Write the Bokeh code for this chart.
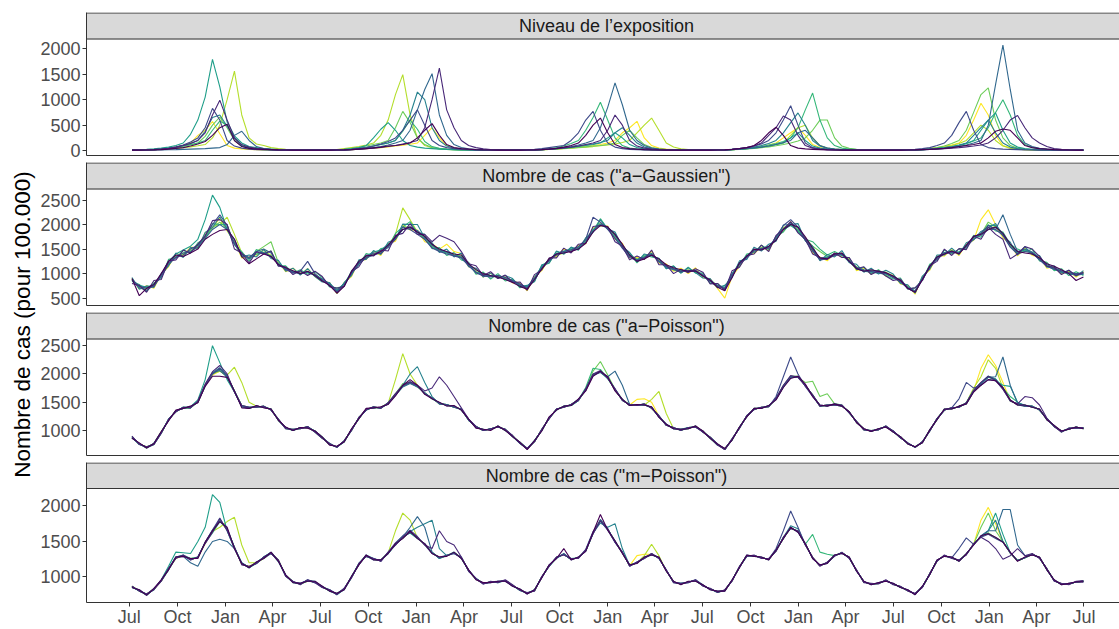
import math
from datetime import datetime, timedelta
from bokeh.plotting import figure
from bokeh.layouts import row, column
from bokeh.models import Range1d, FixedTicker, BoxAnnotation
from bokeh.core.properties import value
from bokeh.embed import file_html
from bokeh.resources import INLINE

FONT = "Liberation Sans"

# ---------------- data ----------------
series_colors = ["#440154", "#482878", "#3E4A89", "#31688E", "#26828E",
                 "#1F9E89", "#35B779", "#6DCD59", "#B4DE2C", "#FDE725"]
strip_labels = ["Niveau de l\u2019exposition",
                'Nombre de cas ("a\u2212Gaussien")',
                'Nombre de cas ("a\u2212Poisson")',
                'Nombre de cas ("m\u2212Poisson")']
y_title = "Nombre de cas (pour 100.000)"
first_date = "2010-07-06"   # first (bi-weekly) observation
step_days = 14
x_tick_dates = ["2010-07-01", "2010-10-01", "2011-01-01", "2011-04-01",
                "2011-07-01", "2011-10-01", "2012-01-01", "2012-04-01",
                "2012-07-01", "2012-10-01", "2013-01-01", "2013-04-01",
                "2013-07-01", "2013-10-01", "2014-01-01", "2014-04-01",
                "2014-07-01", "2014-10-01", "2015-01-01", "2015-04-01",
                "2015-07-01"]
x_tick_labels = ["Jul", "Oct", "Jan", "Apr", "Jul", "Oct", "Jan", "Apr",
                 "Jul", "Oct", "Jan", "Apr", "Jul", "Oct", "Jan", "Apr",
                 "Jul", "Oct", "Jan", "Apr", "Jul"]
y_ticks_expo = [0, 500, 1000, 1500, 2000]
y_ticks_gauss = [500, 1000, 1500, 2000, 2500]
y_ticks_pois = [1000, 1500, 2000, 2500]
y_ticks_mpois = [1000, 1500, 2000]

# Panel 1: Niveau de l'exposition
expo_c0 = [10, 10, 12, 15, 20, 30, 45, 60, 90, 130, 180, 300, 450, 520, 200, 80, 45, 30, 25, 20, 15, 12, 10, 10, 10, 10,
           10, 10, 12, 15, 20, 30, 40, 55, 70, 90, 100, 120, 150, 250, 400, 530, 300, 120, 60, 40, 30, 20, 15, 12, 10, 10,
           10, 10, 12, 15, 20, 30, 45, 70, 100, 150, 300, 500, 640, 350, 120, 60, 40, 30, 20, 15, 12, 10, 10, 10, 10, 10,
           10, 10, 12, 15, 25, 40, 60, 100, 200, 350, 460, 300, 100, 50, 35, 25, 20, 15, 12, 10, 10, 10, 10, 10, 10, 10,
           10, 10, 12, 15, 20, 25, 35, 45, 60, 80, 100, 120, 150, 250, 380, 425, 400, 250, 100, 60, 40, 30, 20, 15, 12, 10, 10]
expo_c1 = [10, 12, 15, 20, 30, 45, 70, 100, 140, 200, 350, 700, 990, 600, 250, 120, 70, 45, 30, 20, 15, 12, 10, 10, 10, 10,
           10, 10, 12, 15, 20, 30, 40, 50, 65, 80, 100, 130, 160, 200, 450, 1000, 1620, 800, 450, 200, 100, 60, 35, 20, 15, 10,
           10, 10, 12, 15, 20, 30, 40, 55, 70, 90, 120, 150, 200, 400, 700, 500, 200, 90, 50, 30, 20, 15, 12, 10, 10, 10,
           10, 10, 12, 15, 25, 40, 60, 90, 150, 300, 450, 680, 600, 300, 100, 50, 30, 20, 15, 12, 10, 10, 10, 10, 10, 10,
           10, 10, 12, 15, 20, 25, 30, 40, 50, 60, 75, 90, 110, 150, 250, 400, 600, 690, 450, 250, 150, 80, 40, 25, 15, 12, 10]
expo_c2 = [10, 12, 15, 20, 30, 45, 70, 110, 170, 250, 450, 830, 600, 200, 90, 50, 30, 20, 15, 12, 10, 10, 10, 10, 10, 10,
           10, 10, 12, 15, 25, 40, 60, 90, 130, 180, 250, 400, 600, 800, 500, 200, 100, 60, 40, 25, 20, 15, 12, 10, 10, 10,
           10, 12, 15, 25, 40, 60, 80, 100, 200, 350, 600, 770, 400, 150, 70, 40, 25, 20, 15, 12, 10, 10, 10, 10, 10, 10,
           10, 10, 12, 15, 25, 40, 60, 90, 130, 200, 350, 600, 880, 500, 150, 60, 35, 20, 15, 12, 10, 10, 10, 10, 10, 10,
           10, 10, 15, 25, 40, 60, 100, 150, 300, 550, 770, 400, 120, 60, 40, 30, 25, 20, 15, 12, 10, 10, 10, 10, 10, 10, 10]
expo_c3 = [10, 10, 12, 12, 15, 18, 20, 25, 30, 35, 40, 50, 60, 120, 300, 380, 200, 80, 40, 25, 20, 15, 12, 10, 10, 10,
           10, 10, 12, 15, 20, 30, 45, 60, 80, 110, 150, 200, 400, 800, 1200, 1510, 700, 300, 120, 60, 35, 20, 15, 12, 10, 10,
           10, 10, 12, 15, 20, 30, 45, 60, 80, 110, 150, 200, 450, 850, 1330, 900, 400, 200, 100, 50, 30, 20, 15, 12, 10, 10,
           10, 10, 12, 15, 20, 30, 40, 55, 70, 90, 120, 160, 200, 350, 400, 250, 100, 50, 30, 20, 15, 12, 10, 10, 10, 10,
           10, 10, 12, 15, 20, 25, 35, 45, 60, 80, 110, 150, 200, 500, 1300, 2070, 1200, 400, 150, 80, 45, 30, 20, 15, 12, 10, 10]
expo_c4 = [10, 12, 15, 20, 30, 45, 70, 100, 140, 200, 380, 650, 700, 480, 250, 100, 60, 40, 30, 20, 15, 12, 10, 10, 10, 10,
           10, 10, 12, 15, 25, 40, 60, 90, 120, 150, 200, 400, 700, 1150, 1000, 450, 200, 90, 50, 30, 20, 15, 12, 10, 10, 10,
           10, 10, 12, 15, 20, 30, 40, 55, 70, 90, 110, 130, 160, 200, 350, 450, 300, 150, 70, 40, 25, 15, 12, 10, 10, 10,
           10, 10, 12, 15, 25, 35, 50, 70, 100, 140, 200, 350, 550, 740, 500, 200, 90, 50, 30, 20, 15, 12, 10, 10, 10, 10,
           10, 10, 12, 15, 20, 30, 45, 60, 80, 110, 150, 300, 450, 600, 350, 150, 70, 40, 25, 20, 15, 12, 10, 10, 10, 10, 10]
expo_c5 = [15, 20, 25, 35, 50, 70, 100, 150, 320, 600, 1050, 1790, 1250, 560, 290, 150, 80, 60, 40, 30, 20, 15, 12, 10, 10, 10,
           10, 12, 15, 25, 40, 60, 100, 250, 420, 550, 400, 200, 100, 70, 50, 40, 30, 25, 20, 15, 12, 10, 10, 10, 10, 10,
           10, 10, 12, 15, 20, 30, 40, 50, 65, 80, 100, 120, 150, 250, 350, 250, 120, 60, 35, 20, 15, 12, 10, 10, 10, 10,
           10, 10, 12, 15, 20, 30, 40, 55, 70, 90, 120, 150, 250, 350, 200, 90, 50, 30, 20, 15, 12, 10, 10, 10, 10, 10,
           10, 10, 12, 15, 20, 30, 40, 55, 75, 100, 140, 200, 400, 600, 740, 400, 150, 70, 40, 25, 20, 15, 12, 10, 10, 10, 10]
expo_c6 = [10, 12, 15, 20, 30, 45, 65, 90, 120, 150, 200, 400, 580, 500, 250, 100, 55, 35, 25, 20, 15, 12, 10, 10, 10, 10,
           10, 10, 12, 15, 25, 40, 60, 90, 120, 150, 200, 380, 600, 420, 180, 80, 45, 30, 20, 15, 12, 10, 10, 10, 10, 10,
           10, 10, 12, 15, 25, 40, 60, 90, 140, 200, 400, 650, 950, 600, 250, 100, 50, 30, 20, 15, 12, 10, 10, 10, 10, 10,
           10, 10, 12, 15, 20, 30, 45, 60, 80, 110, 140, 180, 250, 450, 800, 1130, 600, 250, 100, 50, 30, 20, 15, 12, 10, 10,
           10, 10, 12, 15, 20, 30, 40, 55, 75, 100, 140, 190, 250, 450, 750, 1000, 700, 300, 120, 60, 35, 25, 20, 15, 12, 10, 10]
expo_c7 = [10, 12, 15, 20, 30, 40, 60, 85, 110, 150, 280, 500, 660, 450, 200, 90, 50, 30, 20, 15, 12, 10, 10, 10, 10, 10,
           10, 10, 15, 25, 40, 60, 90, 120, 150, 200, 450, 770, 550, 250, 120, 60, 35, 25, 20, 15, 12, 10, 10, 10, 10, 10,
           10, 10, 12, 15, 20, 25, 35, 45, 55, 65, 75, 90, 100, 120, 150, 300, 400, 250, 120, 60, 35, 20, 15, 12, 10, 10,
           10, 10, 12, 15, 20, 25, 35, 45, 60, 75, 95, 120, 150, 190, 250, 400, 600, 600, 250, 90, 45, 25, 15, 12, 10, 10,
           10, 10, 12, 15, 25, 40, 60, 90, 140, 200, 400, 750, 1100, 1230, 600, 250, 100, 50, 30, 20, 15, 12, 10, 10, 10, 10, 10]
expo_c8 = [10, 12, 15, 20, 25, 35, 45, 60, 75, 95, 120, 250, 500, 1000, 1560, 700, 250, 130, 100, 60, 40, 25, 15, 12, 10, 10,
           10, 12, 20, 40, 60, 80, 110, 150, 300, 600, 1100, 1490, 700, 250, 100, 60, 40, 25, 20, 15, 12, 10, 10, 10, 10, 10,
           10, 10, 12, 15, 20, 25, 30, 40, 50, 60, 70, 80, 95, 110, 130, 160, 200, 350, 500, 640, 400, 150, 70, 35, 20, 15,
           10, 10, 12, 15, 20, 30, 40, 55, 70, 90, 120, 150, 300, 450, 500, 250, 100, 50, 30, 20, 15, 12, 10, 10, 10, 10,
           10, 10, 12, 15, 20, 30, 45, 70, 100, 140, 200, 350, 500, 400, 200, 90, 50, 30, 20, 15, 12, 10, 10, 10, 10, 10, 10]
expo_c9 = [10, 12, 15, 20, 30, 45, 70, 100, 150, 300, 400, 570, 330, 100, 50, 35, 25, 20, 15, 12, 10, 10, 10, 10, 10, 10,
           10, 10, 12, 15, 20, 30, 40, 50, 60, 75, 90, 105, 125, 150, 300, 450, 250, 100, 50, 30, 20, 15, 12, 10, 10, 10,
           10, 10, 12, 15, 20, 25, 35, 45, 55, 70, 85, 100, 120, 150, 200, 350, 450, 575, 250, 100, 50, 30, 20, 15, 12, 10,
           10, 10, 12, 15, 20, 30, 45, 60, 80, 110, 150, 250, 350, 450, 300, 120, 60, 35, 20, 15, 12, 10, 10, 10, 10, 10,
           10, 10, 12, 15, 25, 40, 60, 85, 110, 150, 300, 600, 930, 700, 300, 100, 50, 30, 20, 15, 12, 10, 10, 10, 10, 10, 10]

# Panel 2: Nombre de cas ("a-Gaussien")
gauss_c0 = [900, 550, 700, 780, 1000, 1250, 1380, 1350, 1420, 1500, 1700, 1800, 1880, 1900, 1700, 1350, 1200, 1300, 1400, 1350, 1180, 1120, 1060, 1000, 1050, 960,
            850, 760, 600, 740, 1050, 1250, 1360, 1380, 1450, 1580, 1750, 1900, 1950, 1850, 1760, 1600, 1500, 1450, 1400, 1380, 1200, 1080, 1000, 960, 930, 880,
            820, 740, 680, 880, 1100, 1300, 1400, 1420, 1450, 1500, 1620, 1850, 1980, 1950, 1800, 1600, 1380, 1250, 1300, 1380, 1300, 1180, 1120, 1080, 1050, 1050,
            950, 870, 720, 650, 920, 1220, 1350, 1500, 1480, 1560, 1680, 1900, 2000, 1950, 1750, 1520, 1320, 1300, 1400, 1420, 1250, 1100, 1050, 1080, 1050, 1020,
            950, 860, 700, 620, 880, 1150, 1340, 1400, 1460, 1400, 1580, 1760, 1800, 1900, 1950, 1820, 1600, 1450, 1420, 1400, 1320, 1200, 1150, 1080, 1000, 860, 930]
gauss_c1 = [800, 760, 620, 860, 880, 1260, 1280, 1480, 1420, 1600, 1760, 2080, 2100, 2000, 1500, 1420, 1220, 1440, 1400, 1460, 1150, 1140, 980, 1060, 960, 1050,
            940, 740, 700, 740, 1040, 1140, 1380, 1360, 1480, 1460, 1780, 1820, 2020, 1800, 1800, 1650, 1780, 1720, 1650, 1450, 1200, 1160, 960, 1040, 900, 970,
            820, 830, 660, 980, 1080, 1320, 1320, 1520, 1420, 1600, 1620, 1960, 1980, 1960, 1650, 1560, 1280, 1360, 1290, 1480, 1180, 1180, 1000, 1090, 1020, 1100,
            1030, 790, 800, 660, 1060, 1130, 1370, 1400, 1580, 1450, 1780, 1900, 2060, 1830, 1700, 1400, 1330, 1290, 1420, 1330, 1330, 1100, 1140, 980, 1060, 950,
            860, 890, 690, 710, 860, 1160, 1250, 1500, 1370, 1510, 1490, 1760, 1700, 1950, 1800, 1700, 1300, 1400, 1550, 1500, 1350, 1150, 1130, 980, 1070, 960, 1030]
gauss_c2 = [880, 740, 700, 740, 980, 1220, 1330, 1380, 1500, 1580, 1780, 2000, 2200, 1980, 1600, 1400, 1330, 1450, 1420, 1350, 1200, 1080, 1020, 1050, 1250, 1000,
            860, 760, 620, 760, 1020, 1220, 1320, 1420, 1410, 1540, 1700, 1950, 1900, 1800, 1700, 1520, 1450, 1400, 1360, 1320, 1160, 1020, 950, 930, 960, 920,
            860, 790, 700, 880, 1100, 1260, 1400, 1450, 1480, 1550, 1700, 2150, 2050, 1900, 1720, 1520, 1330, 1260, 1320, 1380, 1260, 1150, 1100, 1040, 1060, 1070,
            970, 860, 750, 690, 980, 1190, 1320, 1460, 1510, 1520, 1750, 1980, 2100, 1950, 1680, 1460, 1280, 1300, 1370, 1390, 1250, 1110, 1060, 1040, 1020, 1000,
            920, 830, 700, 620, 880, 1120, 1300, 1400, 1430, 1420, 1550, 1750, 1820, 1980, 1900, 1780, 1540, 1400, 1450, 1420, 1280, 1150, 1090, 1060, 1020, 1000, 1010]
gauss_c3 = [860, 710, 660, 760, 940, 1180, 1340, 1420, 1450, 1540, 1720, 1900, 2000, 1900, 1640, 1400, 1300, 1450, 1500, 1420, 1180, 1090, 1040, 1000, 1030, 970,
            890, 790, 650, 790, 990, 1200, 1320, 1380, 1420, 1560, 1740, 1900, 1920, 1880, 1750, 1580, 1480, 1440, 1370, 1340, 1170, 1030, 960, 940, 930, 890,
            840, 760, 720, 910, 1120, 1280, 1380, 1430, 1460, 1510, 1640, 1870, 2010, 1950, 1780, 1580, 1370, 1280, 1340, 1410, 1240, 1130, 1080, 1040, 1050, 1050,
            950, 840, 730, 700, 940, 1210, 1340, 1480, 1490, 1540, 1690, 1910, 2040, 1930, 1710, 1490, 1310, 1330, 1390, 1410, 1270, 1130, 1080, 1060, 1040, 1020,
            940, 860, 730, 650, 910, 1140, 1330, 1430, 1440, 1420, 1550, 1700, 1780, 1900, 1900, 2200, 1800, 1450, 1500, 1440, 1310, 1180, 1110, 1040, 1000, 970, 990]
gauss_c4 = [920, 680, 750, 720, 1010, 1160, 1420, 1330, 1530, 1520, 1840, 1940, 2160, 1900, 1700, 1340, 1380, 1340, 1490, 1310, 1270, 1050, 1110, 970, 1100, 940,
            830, 820, 600, 820, 960, 1280, 1290, 1470, 1390, 1640, 1700, 2010, 2000, 2000, 1730, 1630, 1430, 1500, 1340, 1420, 1140, 1110, 930, 1010, 900, 960,
            900, 730, 760, 840, 1180, 1220, 1460, 1400, 1540, 1480, 1720, 1840, 2100, 1910, 1850, 1550, 1430, 1240, 1400, 1360, 1310, 1100, 1150, 1010, 1120, 1020,
            910, 900, 710, 760, 920, 1260, 1290, 1540, 1460, 1600, 1660, 1990, 2000, 2020, 1670, 1560, 1260, 1390, 1340, 1470, 1220, 1190, 1030, 1110, 990, 1070,
            990, 800, 770, 600, 950, 1090, 1380, 1380, 1520, 1390, 1630, 1690, 1860, 1930, 2020, 1770, 1640, 1380, 1550, 1390, 1370, 1130, 1160, 1010, 1070, 950, 1060]
gauss_c5 = [860, 760, 720, 780, 980, 1250, 1400, 1480, 1560, 1700, 2100, 2600, 2350, 1900, 1600, 1380, 1320, 1400, 1420, 1360, 1200, 1100, 1040, 1000, 1030, 960,
            880, 800, 660, 800, 1030, 1240, 1360, 1440, 1480, 1600, 1700, 1900, 1950, 1850, 1700, 1540, 1460, 1420, 1370, 1330, 1170, 1030, 980, 960, 960, 920,
            860, 770, 730, 920, 1150, 1280, 1410, 1460, 1500, 1540, 1680, 1900, 2000, 1920, 1730, 1550, 1350, 1280, 1330, 1400, 1250, 1140, 1090, 1060, 1070, 1060,
            970, 860, 760, 720, 990, 1220, 1360, 1490, 1520, 1550, 1720, 1900, 1980, 1880, 1680, 1470, 1300, 1340, 1400, 1380, 1240, 1100, 1050, 1030, 1010, 990,
            920, 840, 700, 620, 900, 1150, 1340, 1430, 1460, 1440, 1570, 1740, 1820, 1980, 1980, 1820, 1560, 1430, 1480, 1420, 1290, 1150, 1090, 1040, 1000, 980, 990]
gauss_c6 = [840, 780, 640, 810, 920, 1290, 1320, 1470, 1420, 1630, 1710, 2020, 2000, 2000, 1590, 1450, 1260, 1490, 1420, 1460, 1160, 1160, 1010, 1080, 990, 1040,
            920, 730, 710, 740, 1060, 1180, 1410, 1370, 1510, 1530, 1820, 1950, 2060, 1830, 1800, 1510, 1530, 1370, 1430, 1280, 1230, 990, 1030, 890, 1000, 850,
            890, 710, 750, 840, 1160, 1210, 1450, 1400, 1530, 1480, 1730, 1870, 2120, 1910, 1820, 1520, 1420, 1220, 1380, 1340, 1310, 1100, 1160, 1010, 1130, 1010,
            1010, 800, 800, 660, 1010, 1150, 1400, 1430, 1580, 1490, 1760, 1850, 2040, 1850, 1700, 1650, 1500, 1380, 1450, 1370, 1320, 1080, 1130, 1000, 1080, 960,
            890, 910, 680, 710, 860, 1190, 1280, 1480, 1400, 1500, 1510, 1780, 1740, 2000, 1870, 1850, 1600, 1500, 1440, 1500, 1260, 1230, 1060, 1100, 960, 1040, 960]
gauss_c7 = [880, 720, 700, 780, 960, 1200, 1340, 1420, 1470, 1560, 1740, 1940, 2050, 1930, 1620, 1380, 1310, 1450, 1550, 1650, 1220, 1100, 1050, 1010, 1040, 980,
            880, 770, 650, 780, 1000, 1210, 1340, 1400, 1440, 1570, 1730, 1950, 1950, 1850, 1730, 1570, 1480, 1440, 1380, 1360, 1190, 1040, 980, 960, 950, 900,
            850, 760, 700, 900, 1120, 1270, 1400, 1440, 1480, 1520, 1660, 1880, 2040, 1940, 1760, 1580, 1380, 1300, 1350, 1420, 1260, 1150, 1100, 1050, 1060, 1060,
            960, 840, 740, 700, 960, 1210, 1340, 1480, 1510, 1540, 1700, 1920, 2000, 1900, 1720, 1560, 1450, 1350, 1400, 1410, 1270, 1120, 1070, 1050, 1030, 1010,
            930, 850, 720, 640, 900, 1130, 1320, 1420, 1460, 1430, 1560, 1720, 1800, 2050, 1950, 1800, 1560, 1420, 1480, 1430, 1300, 1170, 1100, 1050, 1010, 990, 1000]
gauss_c8 = [880, 700, 690, 770, 950, 1200, 1350, 1400, 1450, 1560, 1740, 1950, 2000, 2150, 1800, 1420, 1300, 1400, 1440, 1380, 1200, 1100, 1050, 1010, 1040, 980,
            880, 780, 640, 780, 1000, 1210, 1330, 1400, 1430, 1560, 1800, 2340, 2100, 1850, 1720, 1560, 1470, 1430, 1380, 1350, 1180, 1040, 970, 950, 945, 900,
            870, 790, 690, 880, 1140, 1290, 1370, 1420, 1490, 1540, 1630, 1860, 2010, 1950, 1760, 1540, 1380, 1290, 1310, 1380, 1270, 1160, 1070, 1030, 1080, 1040,
            940, 870, 760, 680, 980, 1180, 1350, 1450, 1520, 1510, 1720, 1940, 2000, 1940, 1680, 1500, 1280, 1340, 1360, 1420, 1240, 1140, 1050, 1070, 1010, 1030,
            950, 830, 740, 620, 920, 1110, 1340, 1400, 1470, 1410, 1580, 1700, 1810, 1940, 1950, 1780, 1580, 1400, 1500, 1410, 1320, 1150, 1120, 1030, 1030, 970, 1020]
gauss_c9 = [900, 690, 750, 700, 990, 1140, 1410, 1370, 1540, 1520, 1830, 1930, 2130, 1870, 1650, 1320, 1340, 1360, 1500, 1340, 1240, 1040, 1110, 980, 1100, 940,
            840, 820, 590, 820, 940, 1260, 1290, 1460, 1370, 1610, 1660, 1990, 1890, 1890, 1650, 1610, 1500, 1600, 1450, 1410, 1140, 1100, 930, 1010, 900, 960,
            810, 810, 650, 940, 1060, 1310, 1350, 1500, 1430, 1580, 1610, 1940, 1970, 1970, 1700, 1620, 1320, 1330, 1290, 1460, 1210, 1200, 1050, 1110, 1000, 1120,
            920, 890, 700, 500, 950, 1140, 1370, 1410, 1540, 1470, 1740, 1860, 2060, 1860, 1740, 1420, 1340, 1260, 1420, 1340, 1300, 1060, 1110, 990, 1070, 950,
            970, 790, 760, 580, 940, 1070, 1360, 1360, 1490, 1370, 1600, 1680, 2100, 2300, 2000, 1730, 1600, 1360, 1520, 1370, 1340, 1110, 1140, 990, 1050, 930, 1040]

# Panel 3: Nombre de cas ("a-Poisson")
pois_c0 = [860, 780, 690, 770, 980, 1170, 1360, 1390, 1430, 1490, 1780, 1960, 1960, 1940, 1700, 1400, 1390, 1440, 1400, 1380, 1180, 1060, 1000, 1050, 1040, 990,
           880, 740, 720, 800, 1030, 1210, 1390, 1400, 1420, 1460, 1610, 1800, 1900, 1800, 1640, 1560, 1500, 1430, 1440, 1360, 1200, 1040, 1020, 1000, 1080, 1000,
           890, 790, 660, 820, 990, 1240, 1360, 1430, 1440, 1560, 1700, 1960, 2050, 1950, 1700, 1550, 1440, 1460, 1450, 1420, 1230, 1110, 1030, 1020, 1030, 1080,
           990, 860, 760, 680, 830, 1060, 1240, 1390, 1390, 1440, 1540, 1760, 1920, 1960, 1820, 1600, 1450, 1430, 1470, 1430, 1330, 1140, 1030, 980, 1030, 1060,
           970, 890, 760, 710, 780, 1010, 1190, 1380, 1380, 1430, 1470, 1680, 1800, 1900, 1880, 1760, 1540, 1450, 1450, 1410, 1380, 1190, 1090, 990, 1020, 1060, 1030]
pois_c1 = [900, 750, 710, 750, 950, 1200, 1330, 1410, 1400, 1520, 1820, 2040, 2150, 2000, 1680, 1440, 1410, 1410, 1430, 1360, 1200, 1030, 1020, 1030, 1070, 970,
           860, 770, 700, 820, 1000, 1230, 1360, 1420, 1390, 1490, 1650, 1800, 1860, 1800, 1700, 1750, 1950, 1800, 1600, 1400, 1200, 1070, 1000, 1030, 1060, 1020,
           910, 770, 680, 800, 1020, 1210, 1380, 1410, 1460, 1530, 1740, 2000, 2060, 1920, 1740, 1530, 1460, 1440, 1470, 1390, 1260, 1090, 1050, 1000, 1050, 1060,
           970, 880, 740, 660, 850, 1040, 1260, 1370, 1410, 1420, 1570, 1800, 1970, 1940, 1790, 1630, 1430, 1450, 1450, 1450, 1310, 1160, 1010, 1000, 1010, 1080,
           990, 870, 780, 700, 800, 990, 1210, 1360, 1400, 1410, 1490, 1710, 1850, 1960, 1890, 1730, 1520, 1470, 1600, 1580, 1450, 1220, 1070, 970, 1040, 1040, 1050]
pois_c2 = [870, 770, 700, 770, 970, 1180, 1350, 1390, 1420, 1500, 1790, 2000, 2100, 1970, 1680, 1420, 1390, 1430, 1410, 1380, 1180, 1050, 1000, 1050, 1050, 990,
           880, 750, 710, 800, 1020, 1210, 1380, 1400, 1410, 1470, 1640, 1790, 1850, 1790, 1650, 1580, 1470, 1460, 1410, 1380, 1180, 1070, 1000, 1030, 1060, 1020,
           890, 790, 680, 800, 1020, 1210, 1380, 1410, 1460, 1550, 1710, 1990, 2030, 1940, 1710, 1550, 1440, 1460, 1450, 1410, 1240, 1110, 1030, 1020, 1030, 1080,
           970, 880, 760, 660, 850, 1040, 1260, 1370, 1410, 1420, 1600, 1950, 2300, 2000, 1780, 1600, 1430, 1450, 1450, 1430, 1330, 1140, 1030, 980, 1030, 1060,
           990, 870, 780, 700, 800, 990, 1210, 1360, 1400, 1560, 1850, 1750, 1800, 1900, 1880, 1730, 1540, 1450, 1430, 1430, 1360, 1210, 1070, 990, 1020, 1060, 1030]
pois_c3 = [890, 760, 690, 750, 950, 1200, 1330, 1410, 1400, 1520, 1810, 2020, 2060, 1950, 1700, 1440, 1410, 1410, 1430, 1360, 1200, 1030, 1020, 1030, 1070, 970,
           860, 770, 700, 820, 1000, 1230, 1360, 1420, 1390, 1490, 1620, 1770, 1830, 1770, 1670, 1560, 1490, 1440, 1430, 1360, 1200, 1050, 1020, 1010, 1080, 1000,
           910, 770, 670, 820, 1000, 1230, 1360, 1430, 1440, 1530, 1730, 1970, 2030, 1950, 2050, 1800, 1460, 1440, 1470, 1390, 1260, 1090, 1050, 1000, 1050, 1060,
           990, 860, 740, 680, 830, 1060, 1240, 1390, 1390, 1440, 1550, 1770, 1940, 1940, 1810, 1610, 1450, 1430, 1470, 1450, 1310, 1160, 1010, 1000, 1010, 1080,
           970, 890, 760, 710, 780, 1010, 1190, 1380, 1380, 1430, 1470, 1690, 1820, 1940, 1950, 2300, 1800, 1480, 1450, 1410, 1380, 1190, 1090, 970, 1040, 1040, 1050]
pois_c4 = [870, 760, 700, 770, 970, 1180, 1350, 1390, 1420, 1500, 1790, 2020, 2110, 1970, 1690, 1420, 1390, 1430, 1410, 1380, 1180, 1050, 1000, 1050, 1050, 990,
           880, 750, 710, 800, 1020, 1210, 1380, 1400, 1410, 1470, 1640, 1800, 2000, 2130, 1850, 1600, 1470, 1460, 1410, 1380, 1180, 1070, 1000, 1030, 1060, 1020,
           890, 790, 680, 800, 1020, 1210, 1380, 1410, 1460, 1550, 1710, 1990, 2050, 1940, 1730, 1550, 1440, 1460, 1450, 1410, 1240, 1110, 1030, 1020, 1030, 1080,
           970, 880, 760, 660, 850, 1040, 1260, 1370, 1410, 1420, 1570, 1790, 1960, 1960, 1790, 1630, 1430, 1450, 1450, 1430, 1330, 1140, 1030, 980, 1030, 1060,
           990, 870, 780, 700, 800, 990, 1210, 1360, 1400, 1410, 1490, 1710, 1840, 1960, 1910, 1750, 1520, 1470, 1430, 1430, 1360, 1210, 1070, 990, 1020, 1060, 1030]
pois_c5 = [880, 750, 710, 760, 960, 1200, 1340, 1410, 1420, 1540, 1900, 2500, 2200, 1900, 1680, 1430, 1410, 1420, 1420, 1370, 1190, 1040, 1010, 1040, 1060, 980,
           870, 770, 700, 810, 1010, 1220, 1360, 1410, 1400, 1480, 1630, 1780, 1840, 1780, 1660, 1570, 1480, 1450, 1420, 1370, 1190, 1060, 1010, 1020, 1070, 1010,
           890, 770, 680, 820, 1000, 1230, 1360, 1430, 1440, 1530, 1730, 1990, 2030, 1920, 1730, 1530, 1460, 1440, 1450, 1410, 1240, 1110, 1030, 1020, 1050, 1060,
           980, 870, 750, 670, 840, 1050, 1250, 1380, 1400, 1430, 1560, 1780, 1950, 1950, 1800, 1620, 1440, 1440, 1460, 1440, 1320, 1150, 1020, 990, 1020, 1070,
           980, 880, 770, 705, 790, 1000, 1200, 1370, 1390, 1420, 1480, 1700, 1830, 1950, 1880, 1800, 1780, 1500, 1440, 1420, 1370, 1200, 1080, 980, 1030, 1050, 1040]
pois_c6 = [870, 770, 690, 770, 970, 1180, 1350, 1390, 1400, 1500, 1790, 2000, 2080, 1970, 1700, 1420, 1400, 1430, 1410, 1380, 1180, 1050, 1000, 1050, 1050, 990,
           880, 750, 710, 800, 1020, 1210, 1380, 1400, 1410, 1470, 1640, 1790, 1860, 1790, 1650, 1580, 1470, 1460, 1410, 1380, 1180, 1070, 1000, 1030, 1060, 1020,
           900, 780, 670, 810, 1010, 1220, 1370, 1420, 1450, 1540, 1760, 2100, 2080, 1920, 1720, 1540, 1450, 1450, 1460, 1400, 1250, 1100, 1040, 1010, 1040, 1070,
           980, 870, 750, 670, 840, 1050, 1250, 1380, 1400, 1430, 1560, 1780, 1940, 1950, 1800, 1620, 1440, 1440, 1460, 1440, 1320, 1150, 1020, 990, 1020, 1070,
           990, 870, 780, 700, 800, 990, 1210, 1360, 1400, 1410, 1490, 1710, 1840, 1960, 1910, 1750, 1600, 1500, 1430, 1430, 1360, 1210, 1070, 990, 1020, 1060, 1030]
pois_c7 = [890, 760, 700, 750, 950, 1200, 1330, 1410, 1400, 1520, 1810, 2020, 2060, 1950, 1700, 1440, 1410, 1410, 1430, 1360, 1200, 1030, 1020, 1030, 1070, 970,
           860, 770, 700, 820, 1000, 1230, 1360, 1420, 1390, 1490, 1650, 1830, 1850, 1770, 1670, 1560, 1490, 1440, 1430, 1360, 1200, 1050, 1020, 1010, 1080, 1000,
           910, 770, 670, 820, 1000, 1230, 1360, 1430, 1440, 1530, 1730, 2050, 2220, 1980, 1730, 1550, 1460, 1440, 1470, 1390, 1260, 1090, 1050, 1000, 1050, 1060,
           990, 860, 740, 680, 830, 1060, 1240, 1390, 1390, 1440, 1550, 1770, 1940, 1940, 1850, 1870, 1600, 1650, 1470, 1450, 1310, 1160, 1010, 1000, 1010, 1080,
           970, 890, 760, 710, 780, 1010, 1190, 1380, 1380, 1430, 1470, 1690, 1840, 1940, 1900, 1760, 1540, 1450, 1450, 1410, 1380, 1190, 1090, 970, 1040, 1040, 1050]
pois_c8 = [870, 770, 690, 770, 980, 1180, 1350, 1390, 1420, 1500, 1790, 2000, 2050, 1980, 2120, 1850, 1500, 1430, 1410, 1380, 1180, 1050, 1000, 1050, 1050, 990,
           880, 750, 710, 800, 1020, 1210, 1380, 1400, 1410, 1480, 1900, 2360, 2000, 1800, 1650, 1580, 1470, 1460, 1410, 1380, 1180, 1070, 1000, 1030, 1060, 1020,
           890, 790, 680, 800, 1020, 1210, 1380, 1410, 1460, 1550, 1710, 1990, 2030, 1940, 1710, 1550, 1440, 1460, 1450, 1550, 1690, 1300, 1030, 1020, 1030, 1080,
           970, 880, 760, 660, 850, 1040, 1260, 1370, 1410, 1420, 1570, 1790, 1960, 1960, 1790, 1630, 1430, 1450, 1450, 1430, 1330, 1140, 1030, 980, 1030, 1060,
           990, 870, 780, 700, 800, 990, 1210, 1360, 1400, 1410, 1490, 1750, 1950, 2250, 2100, 1750, 1520, 1470, 1430, 1430, 1360, 1210, 1070, 990, 1020, 1060, 1030]
pois_c9 = [880, 760, 710, 760, 960, 1190, 1340, 1400, 1400, 1510, 1800, 1980, 2050, 1960, 1690, 1440, 1400, 1420, 1420, 1370, 1190, 1040, 1010, 1040, 1060, 980,
           870, 760, 705, 810, 1010, 1220, 1370, 1410, 1400, 1480, 1630, 1780, 1840, 1780, 1660, 1570, 1480, 1450, 1420, 1370, 1190, 1060, 1010, 1020, 1070, 1010,
           900, 780, 670, 810, 1010, 1220, 1370, 1420, 1450, 1540, 1720, 1980, 2040, 1930, 1720, 1540, 1450, 1550, 1560, 1500, 1250, 1100, 1040, 1010, 1040, 1070,
           980, 870, 750, 670, 840, 1050, 1250, 1380, 1400, 1430, 1560, 1780, 1950, 1950, 1800, 1620, 1440, 1440, 1460, 1440, 1320, 1150, 1020, 990, 1020, 1070,
           980, 880, 770, 705, 790, 1000, 1200, 1370, 1390, 1420, 1480, 1700, 2100, 2340, 2150, 1850, 1530, 1460, 1440, 1420, 1370, 1200, 1080, 980, 1030, 1050, 1040]

# Panel 4: Nombre de cas ("m-Poisson")
mpois_c0 = [850, 820, 740, 840, 960, 1100, 1280, 1290, 1260, 1260, 1490, 1650, 1780, 1700, 1400, 1190, 1130, 1210, 1260, 1350, 1220, 1030, 920, 910, 940, 940,
            870, 800, 770, 820, 1010, 1170, 1310, 1240, 1240, 1330, 1470, 1540, 1650, 1540, 1470, 1330, 1280, 1290, 1350, 1260, 1100, 960, 920, 920, 940, 940,
            870, 830, 760, 820, 990, 1170, 1260, 1400, 1240, 1280, 1360, 1630, 1880, 1660, 1510, 1330, 1170, 1190, 1280, 1310, 1280, 1080, 940, 890, 940, 940,
            890, 820, 800, 800, 960, 1130, 1310, 1290, 1280, 1240, 1380, 1540, 1700, 1630, 1470, 1260, 1170, 1190, 1310, 1330, 1280, 1080, 940, 890, 920, 940,
            910, 850, 820, 750, 870, 1030, 1240, 1290, 1280, 1220, 1330, 1450, 1580, 1610, 1560, 1490, 1350, 1220, 1280, 1310, 1280, 1100, 960, 890, 910, 930, 930]
mpois_c1 = [870, 800, 760, 820, 940, 1120, 1260, 1310, 1240, 1280, 1470, 1630, 1820, 1660, 1420, 1170, 1150, 1190, 1280, 1330, 1240, 1010, 940, 890, 960, 920,
            850, 820, 750, 840, 990, 1190, 1290, 1260, 1220, 1350, 1450, 1560, 1630, 1560, 1450, 1400, 1650, 1500, 1450, 1280, 1080, 980, 900, 940, 920, 960,
            890, 810, 780, 800, 1010, 1150, 1280, 1310, 1260, 1260, 1380, 1610, 1790, 1680, 1490, 1350, 1150, 1210, 1260, 1330, 1260, 1100, 920, 910, 920, 960,
            870, 840, 780, 820, 940, 1150, 1290, 1310, 1260, 1260, 1360, 1560, 1680, 1650, 1450, 1280, 1150, 1210, 1290, 1350, 1260, 1100, 920, 910, 900, 960,
            890, 870, 800, 770, 850, 1050, 1220, 1310, 1260, 1240, 1310, 1470, 1560, 1500, 1400, 1250, 1300, 1400, 1300, 1330, 1260, 1120, 940, 910, 890, 940, 950]
mpois_c2 = [870, 800, 760, 830, 960, 1120, 1280, 1300, 1240, 1280, 1490, 1660, 1830, 1650, 1400, 1190, 1140, 1190, 1280, 1340, 1220, 1020, 930, 910, 950, 920,
            850, 820, 760, 840, 1000, 1170, 1300, 1260, 1220, 1350, 1480, 1580, 1660, 1570, 1450, 1330, 1280, 1300, 1330, 1270, 1100, 970, 900, 930, 940, 950,
            880, 820, 770, 810, 1000, 1160, 1280, 1320, 1250, 1270, 1390, 1640, 1790, 1660, 1490, 1340, 1160, 1200, 1280, 1320, 1270, 1090, 930, 900, 930, 950,
            880, 830, 790, 810, 950, 1140, 1300, 1300, 1270, 1250, 1400, 1650, 1930, 1700, 1450, 1270, 1160, 1200, 1300, 1340, 1270, 1090, 930, 900, 910, 950,
            900, 860, 810, 760, 860, 1040, 1230, 1300, 1270, 1400, 1550, 1460, 1560, 1600, 1540, 1490, 1340, 1230, 1270, 1320, 1270, 1110, 950, 900, 900, 930, 940]
mpois_c3 = [850, 820, 750, 840, 940, 1100, 1270, 1290, 1200, 1150, 1350, 1500, 1530, 1500, 1400, 1200, 1130, 1210, 1260, 1330, 1240, 1010, 930, 900, 960, 920,
            870, 800, 760, 820, 990, 1190, 1300, 1240, 1240, 1330, 1450, 1560, 1700, 1850, 1700, 1350, 1260, 1310, 1330, 1280, 1080, 980, 910, 920, 940, 940,
            870, 830, 760, 820, 990, 1170, 1260, 1330, 1240, 1280, 1360, 1610, 1810, 1680, 1490, 1350, 1150, 1210, 1260, 1330, 1260, 1100, 920, 910, 920, 960,
            890, 820, 800, 800, 960, 1130, 1310, 1290, 1280, 1240, 1380, 1540, 1700, 1630, 1470, 1260, 1170, 1190, 1310, 1330, 1280, 1080, 940, 890, 920, 940,
            910, 850, 820, 750, 870, 1030, 1240, 1290, 1280, 1220, 1330, 1450, 1580, 1650, 1650, 1950, 1950, 1450, 1300, 1310, 1280, 1100, 960, 890, 910, 930, 930]
mpois_c4 = [860, 810, 740, 830, 950, 1120, 1280, 1310, 1260, 1270, 1490, 1660, 1790, 1680, 1420, 1190, 1140, 1200, 1280, 1350, 1230, 1030, 930, 910, 950, 940,
            860, 810, 760, 830, 1000, 1180, 1310, 1260, 1230, 1340, 1460, 1550, 1640, 1700, 1750, 1800, 1400, 1300, 1340, 1270, 1090, 970, 910, 930, 930, 950,
            880, 820, 770, 810, 1000, 1160, 1270, 1320, 1250, 1270, 1370, 1620, 1760, 1700, 1750, 1400, 1160, 1200, 1270, 1320, 1270, 1090, 930, 900, 930, 950,
            880, 830, 790, 810, 950, 1140, 1300, 1300, 1270, 1250, 1370, 1560, 1720, 1680, 1460, 1270, 1160, 1200, 1300, 1340, 1270, 1090, 930, 900, 910, 950,
            900, 860, 810, 760, 860, 1040, 1230, 1300, 1270, 1230, 1320, 1460, 1570, 1650, 1800, 1500, 1340, 1230, 1270, 1320, 1270, 1110, 950, 900, 900, 930, 940]
mpois_c5 = [860, 800, 760, 820, 960, 1150, 1350, 1340, 1330, 1500, 1700, 2160, 2050, 1650, 1400, 1200, 1130, 1190, 1270, 1340, 1220, 1020, 920, 900, 940, 930,
            860, 820, 750, 830, 1010, 1190, 1290, 1250, 1230, 1330, 1470, 1570, 1620, 1540, 1470, 1350, 1260, 1300, 1350, 1260, 1090, 980, 910, 930, 920, 950,
            880, 810, 770, 820, 1000, 1150, 1270, 1320, 1260, 1270, 1370, 1630, 1790, 1670, 1510, 1340, 1170, 1200, 1270, 1310, 1270, 1090, 930, 910, 930, 950,
            880, 830, 780, 810, 950, 1140, 1290, 1300, 1270, 1250, 1370, 1550, 1690, 1640, 1460, 1270, 1160, 1200, 1300, 1340, 1270, 1090, 930, 900, 910, 950,
            900, 860, 810, 760, 860, 1040, 1230, 1300, 1270, 1230, 1320, 1460, 1570, 1650, 1900, 1600, 1340, 1230, 1270, 1320, 1270, 1110, 950, 900, 900, 930, 940]
mpois_c6 = [850, 810, 750, 830, 950, 1100, 1280, 1300, 1260, 1280, 1480, 1620, 1780, 1680, 1420, 1190, 1130, 1200, 1280, 1340, 1220, 1020, 930, 900, 950, 930,
            860, 800, 770, 830, 1000, 1180, 1300, 1250, 1240, 1340, 1460, 1550, 1630, 1550, 1460, 1340, 1270, 1300, 1340, 1270, 1090, 970, 910, 930, 930, 950,
            880, 820, 770, 810, 1000, 1160, 1270, 1320, 1250, 1270, 1370, 1620, 1800, 1670, 1500, 1340, 1160, 1200, 1270, 1320, 1270, 1090, 930, 900, 930, 950,
            880, 830, 790, 810, 950, 1140, 1300, 1300, 1270, 1250, 1370, 1550, 1690, 1640, 1460, 1600, 1350, 1320, 1300, 1340, 1270, 1090, 930, 900, 910, 950,
            900, 860, 810, 760, 860, 1040, 1230, 1300, 1270, 1230, 1320, 1460, 1570, 1620, 1550, 1500, 1340, 1230, 1270, 1320, 1270, 1110, 950, 900, 900, 930, 940]
mpois_c7 = [870, 810, 750, 830, 950, 1110, 1270, 1300, 1250, 1270, 1480, 1640, 1800, 1670, 1410, 1180, 1140, 1200, 1270, 1340, 1230, 1020, 930, 900, 950, 930,
            860, 810, 760, 830, 1000, 1180, 1300, 1250, 1230, 1340, 1460, 1550, 1640, 1550, 1460, 1340, 1270, 1300, 1340, 1270, 1090, 970, 910, 930, 930, 950,
            880, 820, 770, 810, 1000, 1160, 1270, 1320, 1250, 1270, 1370, 1620, 1800, 1670, 1500, 1340, 1160, 1200, 1270, 1320, 1270, 1090, 930, 900, 930, 950,
            880, 830, 790, 810, 950, 1140, 1300, 1300, 1270, 1250, 1370, 1550, 1690, 1640, 1460, 1270, 1160, 1200, 1300, 1340, 1270, 1090, 930, 900, 910, 950,
            900, 860, 810, 760, 860, 1040, 1230, 1300, 1270, 1230, 1320, 1460, 1700, 1900, 1650, 1500, 1340, 1230, 1270, 1320, 1270, 1110, 950, 900, 900, 930, 940]
mpois_c8 = [860, 810, 750, 830, 950, 1110, 1270, 1300, 1250, 1270, 1480, 1640, 1700, 1780, 1840, 1450, 1200, 1200, 1270, 1340, 1230, 1020, 930, 900, 950, 930,
            860, 810, 760, 830, 1000, 1180, 1300, 1250, 1230, 1340, 1650, 1900, 1800, 1550, 1460, 1340, 1270, 1300, 1340, 1270, 1090, 970, 910, 930, 930, 950,
            880, 820, 770, 810, 1000, 1160, 1270, 1320, 1250, 1270, 1370, 1620, 1800, 1670, 1500, 1340, 1160, 1200, 1300, 1460, 1300, 1090, 930, 900, 930, 950,
            880, 830, 790, 810, 950, 1140, 1300, 1300, 1270, 1250, 1370, 1550, 1690, 1640, 1460, 1270, 1160, 1200, 1300, 1340, 1270, 1090, 930, 900, 910, 950,
            900, 860, 810, 760, 860, 1040, 1230, 1300, 1270, 1230, 1320, 1460, 1570, 1620, 1550, 1500, 1340, 1230, 1270, 1320, 1270, 1110, 950, 900, 900, 930, 940]
mpois_c9 = [870, 800, 760, 830, 940, 1110, 1260, 1300, 1260, 1270, 1470, 1650, 1790, 1660, 1410, 1180, 1150, 1200, 1260, 1340, 1240, 1020, 930, 900, 940, 930,
            860, 810, 760, 830, 1000, 1180, 1300, 1250, 1230, 1340, 1460, 1550, 1640, 1550, 1460, 1340, 1270, 1300, 1340, 1270, 1090, 970, 910, 930, 930, 950,
            880, 820, 770, 810, 1000, 1160, 1270, 1320, 1250, 1270, 1370, 1620, 1800, 1670, 1500, 1340, 1160, 1300, 1320, 1320, 1270, 1090, 930, 900, 930, 950,
            880, 830, 790, 810, 950, 1140, 1300, 1300, 1270, 1250, 1370, 1550, 1690, 1640, 1460, 1270, 1160, 1200, 1300, 1340, 1270, 1090, 930, 900, 910, 950,
            900, 860, 810, 760, 860, 1040, 1230, 1300, 1270, 1230, 1320, 1460, 1800, 1980, 1750, 1500, 1340, 1230, 1270, 1320, 1270, 1110, 950, 900, 900, 930, 940]

# ---------------- layout ----------------
PAGE_W, PAGE_H = 1119, 629
TITLE_W = 36
COL_W = PAGE_W - TITLE_W
LEFT = 50              # frame starts at page x = 86
STRIP_H = 27
FRAME_H = 116
GAP = 7
TOP = 12
XAX = 24
AXIS_COL = "#333333"
TICK_TXT = "#4D4D4D"

t0 = datetime.strptime(first_date, "%Y-%m-%d")
n_obs = len(expo_c0)
dates = [t0 + timedelta(days=step_days * i) for i in range(n_obs)]
epoch = datetime(1970, 1, 1)
tick_ms = [(datetime.strptime(d, "%Y-%m-%d") - epoch).total_seconds() * 1000.0 for d in x_tick_dates]
x_start, x_end = datetime(2010, 4, 10), datetime(2015, 9, 7)
x_range = Range1d(x_start, x_end)
# strip labels are centred on the (uncropped) panel width
x_mid = x_start + (x_end - x_start) * ((606 - 86) / (PAGE_W - 86))

panels = [
    (strip_labels[0], [expo_c0, expo_c1, expo_c2, expo_c3, expo_c4, expo_c5, expo_c6, expo_c7, expo_c8, expo_c9], (-95, 2180), y_ticks_expo),
    (strip_labels[1], [gauss_c0, gauss_c1, gauss_c2, gauss_c3, gauss_c4, gauss_c5, gauss_c6, gauss_c7, gauss_c8, gauss_c9], (350, 2715), y_ticks_gauss),
    (strip_labels[2], [pois_c0, pois_c1, pois_c2, pois_c3, pois_c4, pois_c5, pois_c6, pois_c7, pois_c8, pois_c9], (556, 2610), y_ticks_pois),
    (strip_labels[3], [mpois_c0, mpois_c1, mpois_c2, mpois_c3, mpois_c4, mpois_c5, mpois_c6, mpois_c7, mpois_c8, mpois_c9], (640, 2240), y_ticks_mpois),
]


def make_panel(label, series, yr, yt, first, last):
    y0, y1 = yr
    px = (y1 - y0) / FRAME_H                      # data units per pixel
    y_top = y1 + px * STRIP_H                     # room for the facet strip
    top = TOP if first else 0
    bottom = XAX if last else GAP
    p = figure(width=COL_W, height=top + STRIP_H + FRAME_H + bottom,
               x_range=x_range, y_range=Range1d(y0, y_top),
               x_axis_type="datetime", toolbar_location=None, output_backend="svg",
               min_border_left=LEFT, min_border_right=0, min_border_top=top, min_border_bottom=bottom)
    p.grid.visible = False
    p.background_fill_color = "white"
    p.border_fill_color = "white"
    p.outline_line_color = None

    # facet strip: grey band with dark top and bottom rules
    p.add_layout(BoxAnnotation(bottom=y1, fill_color="#D9D9D9", fill_alpha=1.0,
                               line_color=None, level="underlay"))
    p.add_layout(BoxAnnotation(bottom=y_top - px, fill_color=AXIS_COL, fill_alpha=1.0,
                               line_color=None, level="underlay"))
    p.add_layout(BoxAnnotation(bottom=y1, top=y1 + px, fill_color=AXIS_COL, fill_alpha=1.0,
                               line_color=None, level="underlay"))
    p.text(x=[x_mid], y=[y1 + px * STRIP_H / 2], text=[label], text_align="center",
           text_baseline="middle", text_font=value(FONT), text_font_size=value("18px"),
           text_color="#1A1A1A")

    ya = p.yaxis[0]
    ya.ticker = FixedTicker(ticks=yt)
    ya.minor_tick_line_color = None
    ya.major_tick_in = 0
    ya.major_tick_out = 4
    ya.major_tick_line_color = AXIS_COL
    ya.axis_line_color = AXIS_COL
    ya.major_label_standoff = 2
    ya.major_label_text_font = FONT
    ya.major_label_text_font_size = "18px"
    ya.major_label_text_color = TICK_TXT

    xa = p.xaxis[0]
    xa.axis_line_color = AXIS_COL
    xa.minor_tick_line_color = None
    xa.major_tick_in = 0
    if last:
        xa.ticker = FixedTicker(ticks=tick_ms)
        xa.major_label_overrides = {t: lbl for t, lbl in zip(tick_ms, x_tick_labels)}
        xa.major_tick_out = 4
        xa.major_tick_line_color = AXIS_COL
        xa.major_label_standoff = 0
        xa.major_label_text_font = FONT
        xa.major_label_text_font_size = "18px"
        xa.major_label_text_color = TICK_TXT
    else:
        xa.ticker = FixedTicker(ticks=[])
        xa.major_tick_out = 0
        xa.major_label_standoff = 0

    # yellow first, dark purple last (on top)
    for vals, col in reversed(list(zip(series, series_colors))):
        m = min(len(vals), len(dates))
        p.line(x=dates[:m], y=vals[:m], line_color=col, line_width=1.1)
    return p


children = [make_panel(lab, s, yr, yt, k == 0, k == len(panels) - 1)
            for k, (lab, s, yr, yt) in enumerate(panels)]

tf = figure(width=TITLE_W, height=PAGE_H, x_range=Range1d(0, TITLE_W), y_range=Range1d(0, PAGE_H),
            x_axis_location=None, y_axis_location=None, toolbar_location=None, output_backend="svg",
            min_border_left=0, min_border_right=0, min_border_top=0, min_border_bottom=0)
tf.grid.visible = False
tf.outline_line_color = None
tf.background_fill_color = "white"
tf.border_fill_color = "white"
tf.text(x=[22], y=[PAGE_H - 324], text=[y_title], angle=math.pi / 2, text_align="center",
        text_baseline="middle", text_font=value(FONT), text_font_size=value("22.5px"), text_color="black")

layout = row(tf, column(*children, spacing=0), spacing=0)
open("out.html", "w").write(file_html(layout, INLINE))
